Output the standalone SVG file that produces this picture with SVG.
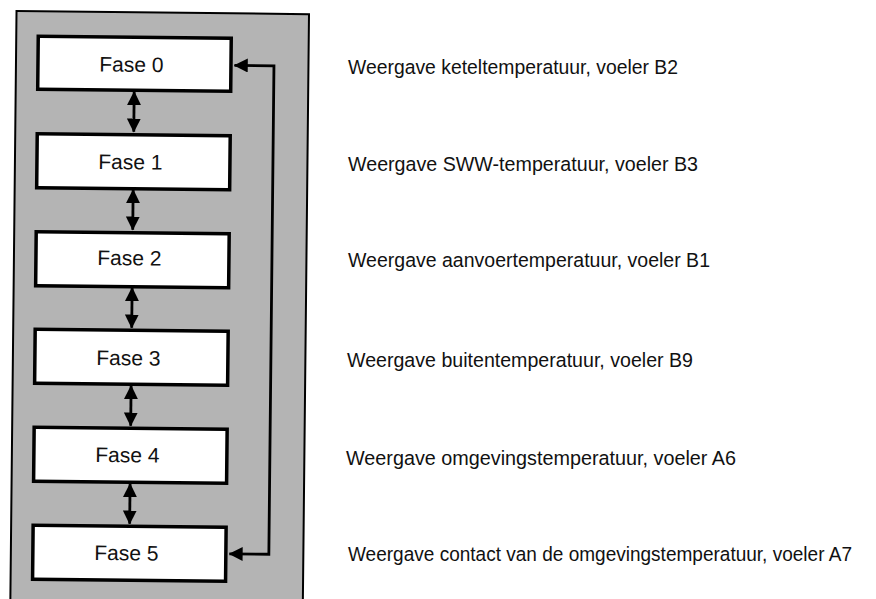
<svg xmlns="http://www.w3.org/2000/svg" width="876" height="599" viewBox="0 0 876 599">
<style>
.box{fill:#fff;stroke:#000;stroke-width:3.5}
.lbl{font-family:"Liberation Sans",Arial,sans-serif;font-size:21px;fill:#111;text-anchor:middle}
.desc{font-family:"Liberation Sans",Arial,sans-serif;font-size:19.3px;fill:#111}
.con{fill:none;stroke:#000;stroke-width:2.8}
</style>
<defs>
<marker id="ah" viewBox="0 0 10 10" refX="9.5" refY="5" markerWidth="5" markerHeight="5" orient="auto-start-reverse" markerUnits="strokeWidth">
<path d="M0,0 L10,5 L0,10 Z" fill="#000"/>
</marker>
</defs>
<rect width="876" height="599" fill="#fff"/>
<g transform="rotate(0.6 150 300)">
<rect id="frame" x="13.5" y="12.5" width="292.5" height="600" fill="#b4b4b4" stroke="#000" stroke-width="2"/>
<g id="connectors">
<line class="con" x1="132" y1="92" x2="132" y2="132" marker-start="url(#ah)" marker-end="url(#ah)"/>
<line class="con" x1="132" y1="190" x2="132" y2="230" marker-start="url(#ah)" marker-end="url(#ah)"/>
<line class="con" x1="132" y1="288" x2="132" y2="328" marker-start="url(#ah)" marker-end="url(#ah)"/>
<line class="con" x1="132" y1="386" x2="132" y2="426" marker-start="url(#ah)" marker-end="url(#ah)"/>
<line class="con" x1="132" y1="484" x2="132" y2="524" marker-start="url(#ah)" marker-end="url(#ah)"/>
<path class="con" d="M232,553 H271.5 V64.5 H232" marker-start="url(#ah)" marker-end="url(#ah)"/>
</g>
<g id="fase0"><rect class="box" x="35.5" y="37.5" width="193" height="53"/><text class="lbl" x="129" y="72">Fase 0</text></g>
<g id="fase1"><rect class="box" x="35.5" y="135" width="193" height="54"/><text class="lbl" x="129" y="169.5">Fase 1</text></g>
<g id="fase2"><rect class="box" x="35.5" y="233" width="193" height="54"/><text class="lbl" x="129" y="265.5">Fase 2</text></g>
<g id="fase3"><rect class="box" x="35.5" y="330.5" width="193" height="54"/><text class="lbl" x="129" y="365.5">Fase 3</text></g>
<g id="fase4"><rect class="box" x="35.5" y="428.5" width="193" height="54"/><text class="lbl" x="129" y="462.5">Fase 4</text></g>
<g id="fase5"><rect class="box" x="35.5" y="526.5" width="193" height="54"/><text class="lbl" x="129" y="560.5">Fase 5</text></g>
</g>
<g id="descriptions">
<text class="desc" x="348" y="73.5" textLength="330" lengthAdjust="spacingAndGlyphs">Weergave keteltemperatuur, voeler B2</text>
<text class="desc" x="348" y="170.5" textLength="350" lengthAdjust="spacingAndGlyphs">Weergave SWW-temperatuur, voeler B3</text>
<text class="desc" x="348" y="266.5" textLength="362" lengthAdjust="spacingAndGlyphs">Weergave aanvoertemperatuur, voeler B1</text>
<text class="desc" x="347" y="367" textLength="346" lengthAdjust="spacingAndGlyphs">Weergave buitentemperatuur, voeler B9</text>
<text class="desc" x="346" y="464.5" textLength="390" lengthAdjust="spacingAndGlyphs">Weergave omgevingstemperatuur, voeler A6</text>
<text class="desc" x="348" y="560.5" textLength="504" lengthAdjust="spacingAndGlyphs">Weergave contact van de omgevingstemperatuur, voeler A7</text>
</g>
</svg>
